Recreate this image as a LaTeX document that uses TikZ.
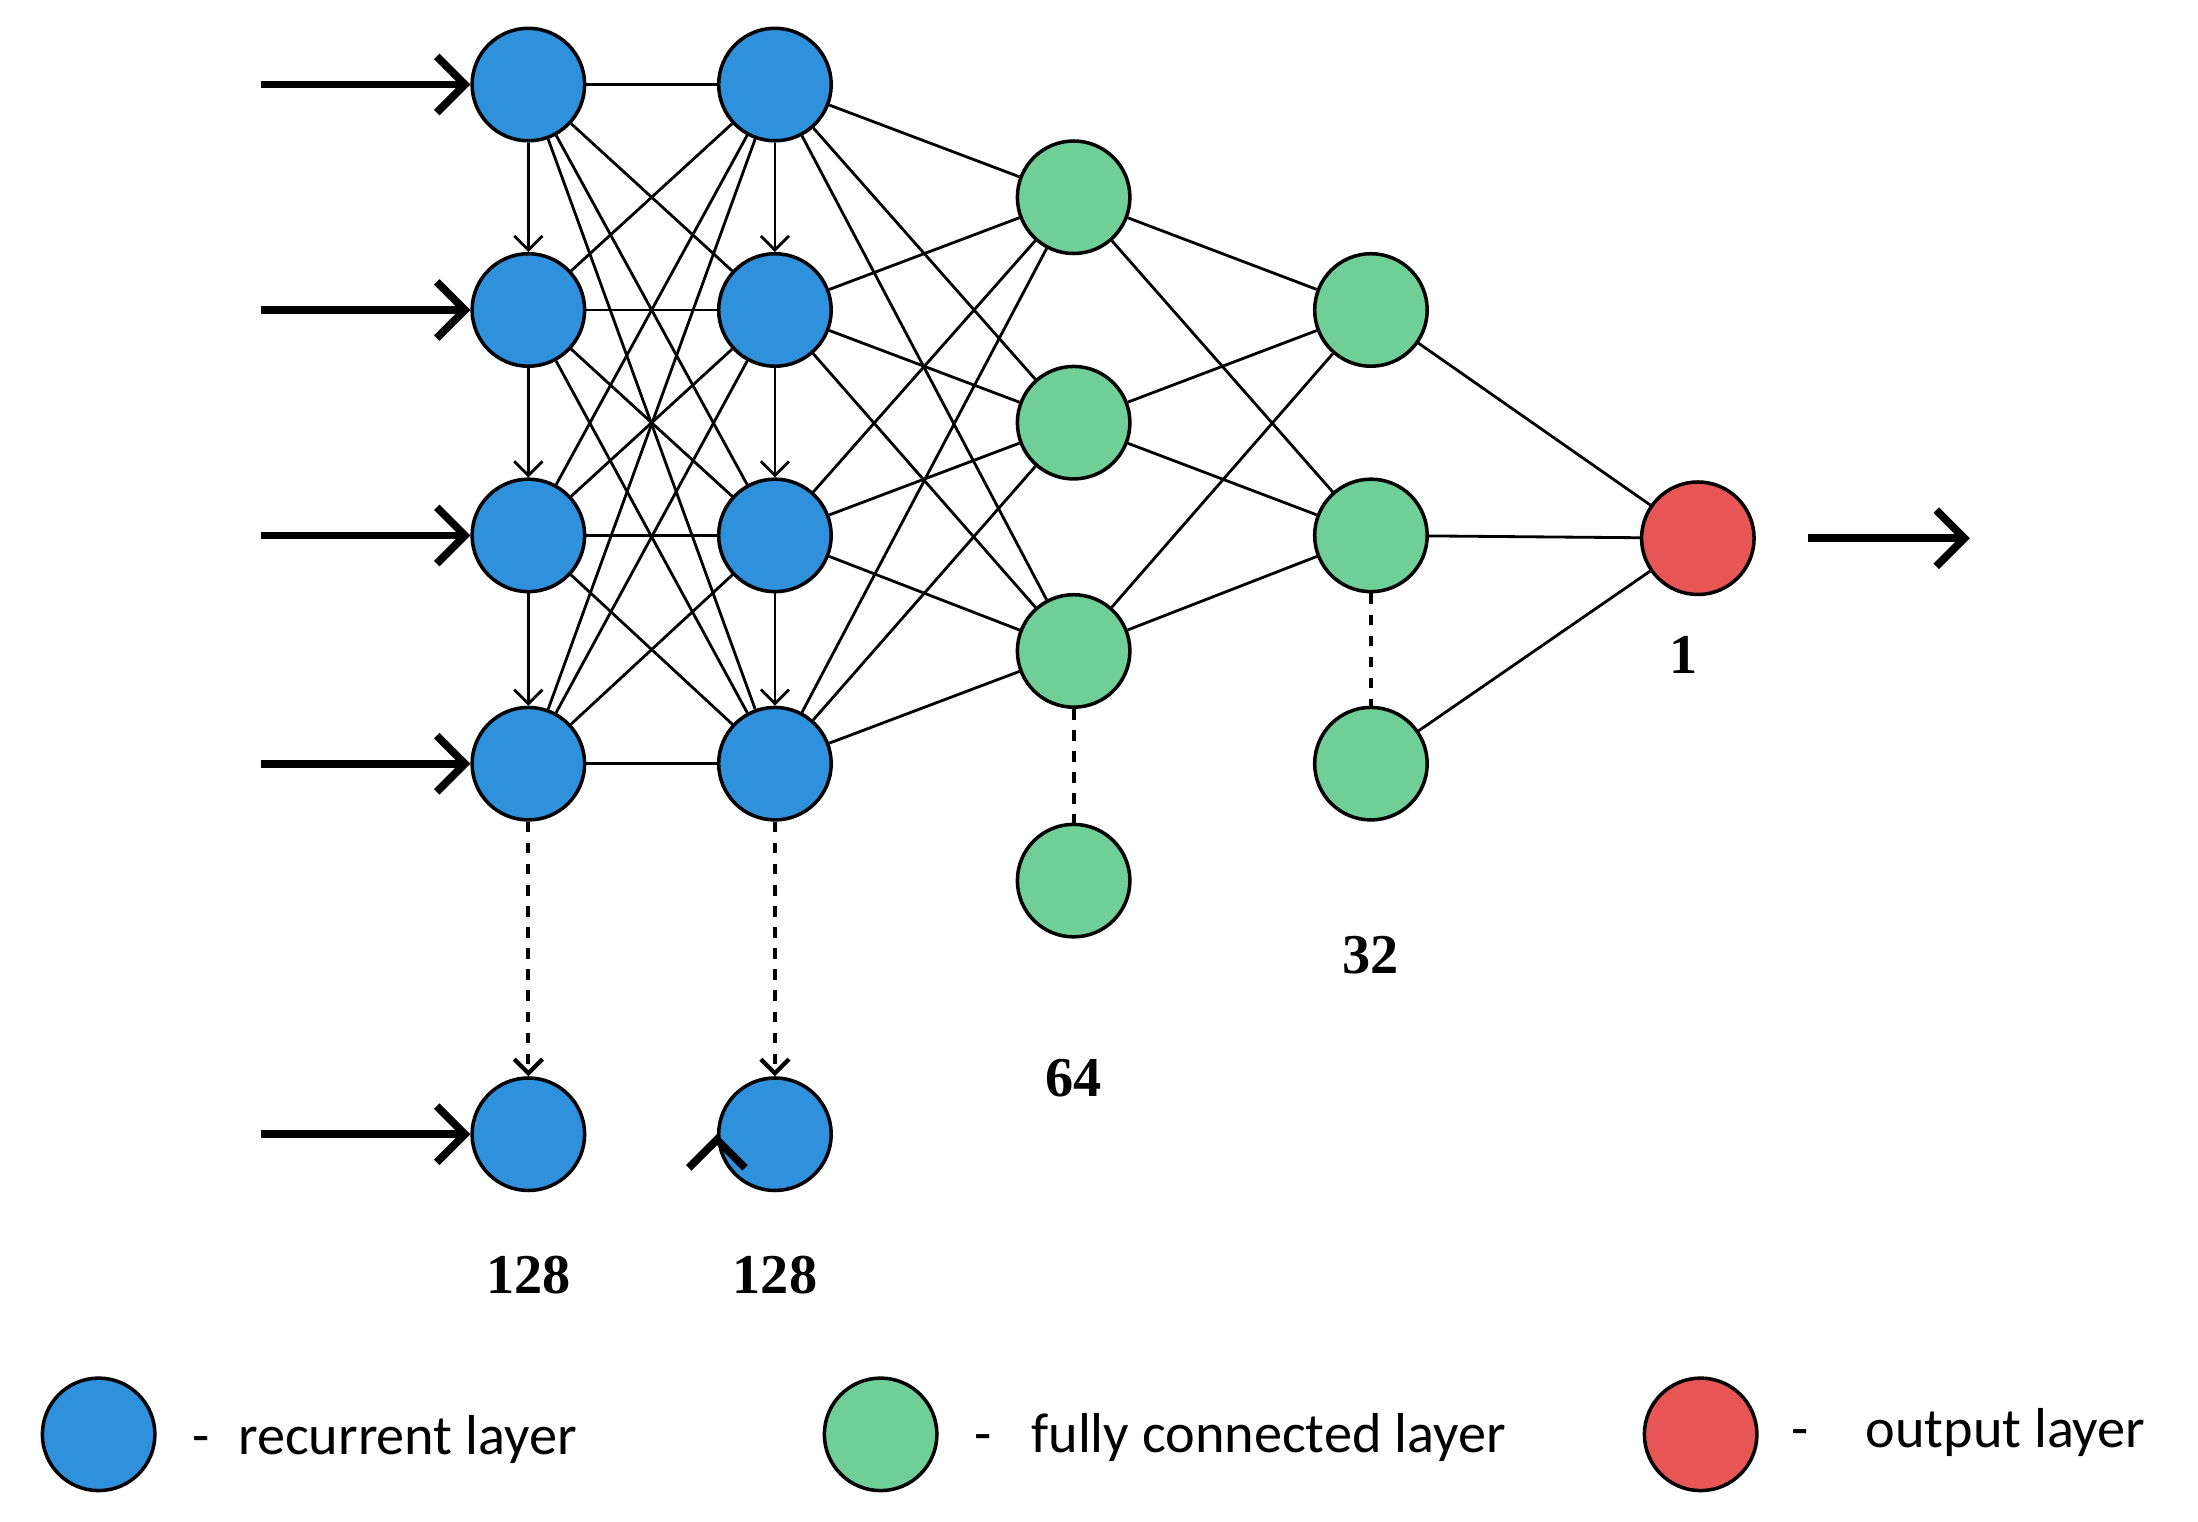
\documentclass[tikz,border=0pt]{standalone}
\usepackage{fontspec}
\setmainfont{Liberation Serif}
\newfontfamily\leg{Carlito}
\usetikzlibrary{arrows.meta}
\definecolor{cb}{RGB}{47,144,219}
\definecolor{cg}{RGB}{112,207,150}
\definecolor{cr}{RGB}{232,85,85}
\begin{document}
\begin{tikzpicture}[x=0.01409cm,y=-0.01409cm,
  n/.style={circle,draw=black,line width=1pt,minimum size=32pt,inner sep=0pt},
  b/.style={n,fill=cb},g/.style={n,fill=cg},r/.style={n,fill=cr},
  con/.style={line width=0.8pt},
  inarr/.style={line width=2.2pt,-{Straight Barb[length=8pt,width=16pt,line width=2.2pt]}},
  varr/.style={line width=0.8pt,-{Straight Barb[length=4pt,width=8pt]}},
  num/.style={font=\fontsize{16}{18}\selectfont\bfseries},
  lt/.style={font=\leg\fontsize{16}{18}\selectfont,anchor=west}]
\useasboundingbox (0,0) rectangle (1560,1080.2);
\foreach \i/\y in {1/60,2/220,3/380,4/542,5/805}{
  \node[b] (a\i) at (375,\y) {};
  \node[b] (b\i) at (550,\y) {};
  \coordinate (s\i) at (185,\y);
  \draw[inarr] (s\i) -- (a\i);
}
\draw[inarr] (b5.west) ++(0,0); 
\foreach \i/\y in {1/140,2/300,3/462,4/625}{\node[g] (c\i) at (762,\y) {};}
\foreach \i/\y in {1/220,2/380,3/542}{\node[g] (d\i) at (973,\y) {};}
\node[r] (o) at (1205,382) {};
\coordinate (oe) at (1398,382);
\coordinate (os) at (1283,382);
\draw[inarr] (os) -- (oe);
\foreach \i in {1,...,4}{\foreach \j in {1,...,4}{\draw[con] (a\i) -- (b\j);}}
\foreach \i in {1,...,4}{\foreach \j in {1,...,3}{\draw[con] (b\i) -- (c\j);}}
\foreach \i in {1,...,3}{\foreach \j in {1,2}{\draw[con] (c\i) -- (d\j);}}
\foreach \i in {1,...,3}{\draw[con] (d\i) -- (o);}
\foreach \i/\j in {1/2,2/3,3/4}{
  \draw[varr] (a\i) -- (a\j);
  \draw[varr] (b\i) -- (b\j);}
\draw[varr,dashed,line width=1.2pt] (a4) -- (a5);
\draw[varr,dashed,line width=1.2pt] (b4) -- (b5);
\draw[con,dashed,line width=1.2pt] (c3) -- (c4);
\draw[con,dashed,line width=1.2pt] (d2) -- (d3);
\node[num] (l1) at (375,905) {128};
\node[num] (l2) at (550,905) {128};
\node[num] (l3) at (762,765) {64};
\node[num] (l4) at (973,678) {32};
\node[num] (l5) at (1195,465) {1};
\node[b] (k1) at (70,1018) {};
\node[g] (k2) at (625,1018) {};
\node[r] (k3) at (1207,1018) {};
\node[lt] (t1) at (128,1022) {-\hspace{0.5em}recurrent layer};
\node[lt] (t2) at (683,1020) {-\hspace{0.7em}fully connected layer};
\node[lt] (t3) at (1263,1017) {-\hspace{1em}output layer};
\end{tikzpicture}
\end{document}
